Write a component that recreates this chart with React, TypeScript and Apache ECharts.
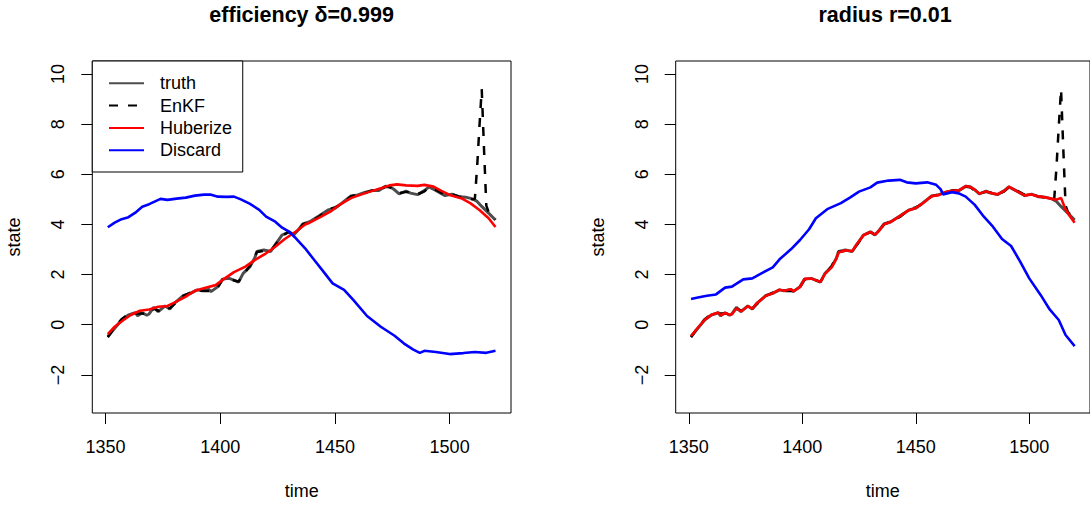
import React, { useEffect, useRef } from "react";
import * as echarts from "echarts";

// ---- data (time, state) ----
const truth: [number, number][] = [
  [1351, -0.47], [1354, -0.14], [1357, 0.19], [1360, 0.39], [1363, 0.48], [1364, 0.36], [1366, 0.48],
  [1368, 0.38], [1369, 0.43], [1371, 0.69], [1373, 0.52], [1376, 0.75], [1378, 0.63], [1380, 0.85],
  [1384, 1.17], [1387, 1.25], [1390, 1.39], [1392, 1.35], [1395, 1.41], [1396, 1.32], [1399, 1.52],
  [1401, 1.82], [1404, 1.85], [1408, 1.7], [1410, 2.05], [1413, 2.32], [1415, 2.65], [1416, 2.92],
  [1419, 2.98], [1422, 2.92], [1424, 3.2], [1427, 3.58], [1430, 3.71], [1432, 3.58], [1434, 3.78],
  [1436, 4.02], [1439, 4.11], [1443, 4.34], [1447, 4.58], [1450, 4.65], [1453, 4.85], [1457, 5.14],
  [1460, 5.18], [1463, 5.28], [1466, 5.35], [1469, 5.35], [1472, 5.52], [1474, 5.5], [1476, 5.38],
  [1478, 5.22], [1481, 5.33], [1483, 5.25], [1486, 5.19], [1489, 5.35], [1491, 5.5], [1494, 5.36],
  [1498, 5.15], [1501, 5.21], [1504, 5.11], [1507, 5.09], [1510, 5.02], [1512, 4.92], [1514, 4.72],
  [1517, 4.45], [1520, 4.18],
];

const enkf: [number, number][] = [
  [1351, -0.5], [1354, -0.1], [1357, 0.22], [1360, 0.42], [1363, 0.45], [1366, 0.45], [1369, 0.42],
  [1371, 0.65], [1373, 0.55], [1376, 0.72], [1378, 0.65], [1380, 0.82], [1384, 1.15], [1387, 1.28],
  [1390, 1.38], [1393, 1.35], [1396, 1.35], [1399, 1.5], [1401, 1.8], [1404, 1.82], [1408, 1.72],
  [1410, 2.0], [1413, 2.35], [1416, 2.9], [1419, 2.95], [1422, 2.95], [1424, 3.18], [1427, 3.55],
  [1430, 3.7], [1432, 3.6], [1434, 3.75], [1436, 4.0], [1439, 4.12], [1443, 4.3], [1447, 4.6],
  [1450, 4.68], [1453, 4.82], [1457, 5.12], [1460, 5.2], [1463, 5.25], [1466, 5.35], [1469, 5.38],
  [1472, 5.5], [1474, 5.48], [1476, 5.35], [1478, 5.25], [1481, 5.3], [1483, 5.28], [1486, 5.2],
  [1489, 5.32], [1491, 5.48], [1494, 5.38], [1498, 5.18], [1501, 5.2], [1504, 5.12], [1507, 5.08],
  [1510, 5.0], [1511, 5.02], [1512, 6.3], [1513, 7.9], [1514, 9.4], [1515, 7.0], [1516, 4.75],
  [1517, 4.5], [1520, 4.2],
];

// left panel: efficiency delta = 0.999
const huberLeft: [number, number][] = [
  [1351, -0.37], [1354, -0.08], [1358, 0.2], [1361, 0.39], [1365, 0.56], [1369, 0.61], [1373, 0.72],
  [1377, 0.75], [1380, 0.88], [1385, 1.12], [1389, 1.36], [1394, 1.49], [1398, 1.58], [1402, 1.85],
  [1406, 2.1], [1411, 2.32], [1415, 2.58], [1420, 2.85], [1424, 3.11], [1428, 3.41], [1433, 3.72],
  [1437, 4.0], [1439, 4.07], [1444, 4.31], [1448, 4.51], [1452, 4.78], [1457, 5.05], [1461, 5.18],
  [1465, 5.3], [1470, 5.44], [1474, 5.56], [1477, 5.6], [1481, 5.56], [1486, 5.54], [1489, 5.58],
  [1493, 5.51], [1496, 5.36], [1500, 5.18], [1505, 5.05], [1509, 4.85], [1513, 4.58], [1517, 4.25],
  [1520, 3.9],
];

const discardLeft: [number, number][] = [
  [1351, 3.89], [1354, 4.07], [1357, 4.21], [1360, 4.29], [1363, 4.47], [1366, 4.71], [1369, 4.81],
  [1374, 5.02], [1377, 4.98], [1381, 5.03], [1385, 5.07], [1389, 5.15], [1393, 5.19], [1396, 5.19],
  [1399, 5.11], [1403, 5.1], [1406, 5.11], [1409, 5.0], [1413, 4.82], [1417, 4.58], [1420, 4.31],
  [1424, 4.11], [1427, 3.87], [1430, 3.71], [1433, 3.45], [1437, 3.05], [1441, 2.58], [1445, 2.12],
  [1449, 1.65], [1454, 1.39], [1458, 0.99], [1464, 0.35], [1470, -0.08], [1476, -0.44], [1480, -0.74],
  [1484, -0.98], [1487, -1.12], [1489, -1.04], [1494, -1.09], [1500, -1.17], [1506, -1.13],
  [1511, -1.09], [1516, -1.12], [1520, -1.04],
];

// right panel: radius r = 0.01
const huberRight: [number, number][] = [
  [1351, -0.45], [1354, -0.12], [1357, 0.2], [1360, 0.4], [1363, 0.49], [1364, 0.38], [1366, 0.47],
  [1368, 0.4], [1369, 0.42], [1371, 0.66], [1373, 0.53], [1376, 0.74], [1378, 0.64], [1380, 0.86],
  [1384, 1.16], [1387, 1.26], [1390, 1.4], [1392, 1.36], [1395, 1.42], [1396, 1.33], [1399, 1.5],
  [1401, 1.83], [1404, 1.84], [1408, 1.71], [1410, 2.03], [1413, 2.3], [1415, 2.63], [1416, 2.88],
  [1419, 2.97], [1422, 2.93], [1424, 3.21], [1427, 3.57], [1430, 3.7], [1432, 3.59], [1434, 3.77],
  [1436, 4.01], [1439, 4.1], [1443, 4.33], [1447, 4.57], [1450, 4.66], [1453, 4.84], [1457, 5.13],
  [1460, 5.17], [1463, 5.29], [1466, 5.34], [1469, 5.36], [1472, 5.53], [1474, 5.49], [1476, 5.39],
  [1478, 5.23], [1481, 5.32], [1483, 5.26], [1486, 5.2], [1489, 5.34], [1491, 5.51], [1494, 5.35],
  [1498, 5.16], [1501, 5.2], [1504, 5.12], [1507, 5.08], [1510, 5.02], [1512, 4.99], [1514, 5.06],
  [1516, 4.6], [1518, 4.32], [1520, 4.07],
];

const discardRight: [number, number][] = [
  [1351, 1.03], [1354, 1.09], [1358, 1.16], [1362, 1.21], [1366, 1.48], [1369, 1.52], [1374, 1.81],
  [1378, 1.85], [1382, 2.05], [1387, 2.29], [1390, 2.61], [1395, 3.01], [1399, 3.38], [1403, 3.81],
  [1406, 4.25], [1411, 4.61], [1417, 4.85], [1421, 5.07], [1425, 5.31], [1430, 5.48], [1433, 5.67],
  [1438, 5.75], [1443, 5.78], [1446, 5.68], [1450, 5.64], [1455, 5.68], [1459, 5.58], [1461, 5.4],
  [1462, 5.2], [1466, 5.29], [1469, 5.24], [1472, 5.11], [1476, 4.78], [1480, 4.31], [1484, 3.91],
  [1488, 3.42], [1492, 3.14], [1496, 2.52], [1500, 1.85], [1505, 1.19], [1509, 0.61], [1513, 0.19],
  [1516, -0.41], [1520, -0.85],
];

const xTicks = [1350, 1400, 1450, 1500];
const yTicks = [-2, 0, 2, 4, 6, 8, 10];
const seriesNames = ["truth", "EnKF", "Huberize", "Discard"];
const panelTitles = ["efficiency \u03b4=0.999", "radius r=0.01"];

const FONT = '"Liberation Sans", Arial, Helvetica, sans-serif';

export default function App() {
  const ref = useRef<HTMLDivElement>(null);

  useEffect(() => {
    if (!ref.current) return;
    const chart = echarts.init(ref.current, undefined, { renderer: "svg" });

    const grids = [
      { left: 92.3, top: 61, width: 418.7, height: 352 },
      { left: 675.7, top: 61, width: 418.7, height: 352 },
    ];

    const xAxis = grids.map((_, i) => ({
      type: "value",
      gridIndex: i,
      min: 1344.24,
      max: 1526.76,
      name: "time",
      nameLocation: "middle",
      nameGap: 69,
      nameTextStyle: { fontFamily: FONT, fontSize: 18, color: "#000" },
      axisLine: { show: false, onZero: false },
      splitLine: { show: false },
      axisTick: { show: true, length: 11, customValues: xTicks, lineStyle: { color: "#000", width: 1 } },
      axisLabel: {
        customValues: xTicks,
        margin: 25,
        fontFamily: FONT,
        fontSize: 18,
        color: "#000",
        formatter: (v: number) => String(v),
      },
    }));

    const yAxis = grids.map((_, i) => ({
      type: "value",
      gridIndex: i,
      min: -3.52,
      max: 10.52,
      name: "state",
      nameLocation: "middle",
      nameGap: 69,
      nameTextStyle: { fontFamily: FONT, fontSize: 18, color: "#000" },
      axisLine: { show: false, onZero: false },
      splitLine: { show: false },
      axisTick: { show: true, length: 11, customValues: yTicks, lineStyle: { color: "#000", width: 1 } },
      axisLabel: { show: false },
    }));

    const styles = [
      { color: "#4d4d4d", width: 3, type: "solid" as any },
      { color: "#000000", width: 2.5, type: [9, 10] as any },
      { color: "#ff0000", width: 2.6, type: "solid" as any },
      { color: "#0000ff", width: 2.6, type: "solid" as any },
    ];
    const panels = [
      [truth, enkf, huberLeft, discardLeft],
      [truth, enkf, huberRight, discardRight],
    ];

    const series: any[] = [];
    panels.forEach((sets, p) => {
      sets.forEach((data, k) => {
        series.push({
          type: "line",
          name: seriesNames[k],
          xAxisIndex: p,
          yAxisIndex: p,
          data,
          symbol: "none",
          showSymbol: false,
          color: styles[k].color,
          lineStyle: { color: styles[k].color, width: styles[k].width, type: styles[k].type },
          z: 2 + k,
        });
      });
    });

    const titleGraphics = panelTitles.map((t, i) => ({
      type: "text",
      x: grids[i].left + grids[i].width / 2,
      y: 15,
      style: {
        text: t,
        fill: "#000",
        fontFamily: FONT,
        fontSize: 21.5,
        fontWeight: "bold",
        align: "center",
        verticalAlign: "middle",
        textAlign: "center",
        textVerticalAlign: "middle",
      },
    }));

    chart.setOption({
      animation: false,
      backgroundColor: "#ffffff",
      grid: grids.map((g) => ({ ...g, show: true, borderColor: "#000", borderWidth: 1, backgroundColor: "transparent" })),
      xAxis,
      yAxis,
      legend: {
        data: seriesNames,
        orient: "vertical",
        left: 92.3,
        top: 61,
        itemWidth: 35,
        itemHeight: 14,
        itemGap: 0.3,
        padding: [11.3, 10.7, 10.8, 15.7],
        borderColor: "#000",
        borderWidth: 1,
        borderRadius: 0,
        backgroundColor: "#ffffff",
        selectedMode: false,
        z: 20,
        itemStyle: { opacity: 0, color: "transparent", borderWidth: 0 },
        textStyle: { fontFamily: FONT, fontSize: 18, color: "#000", lineHeight: 22, padding: [0, 0, 0, 11] },
      },
      graphic: titleGraphics,
      series,
    });

    // rotated y tick labels (R style, las = 0), placed through the axis scale
    const yLabelGraphics: any[] = [];
    grids.forEach((g, i) => {
      yTicks.forEach((v) => {
        const py = chart.convertToPixel({ yAxisIndex: i } as any, v) as unknown as number;
        yLabelGraphics.push({
          type: "text",
          x: g.left - 34,
          y: py,
          rotation: Math.PI / 2,
          style: {
            text: String(v).replace("-", "\u2212"),
            fill: "#000",
            fontFamily: FONT,
            fontSize: 18,
            align: "center",
            verticalAlign: "middle",
            textAlign: "center",
            textVerticalAlign: "middle",
          },
        });
      });
    });
    chart.setOption({ graphic: [...titleGraphics, ...yLabelGraphics] });

    return () => chart.dispose();
  }, []);

  return (
    <div
      ref={ref}
      style={{ position: "absolute", left: 0, top: 0, width: 1090, height: 506, background: "#fff" }}
    />
  );
}
